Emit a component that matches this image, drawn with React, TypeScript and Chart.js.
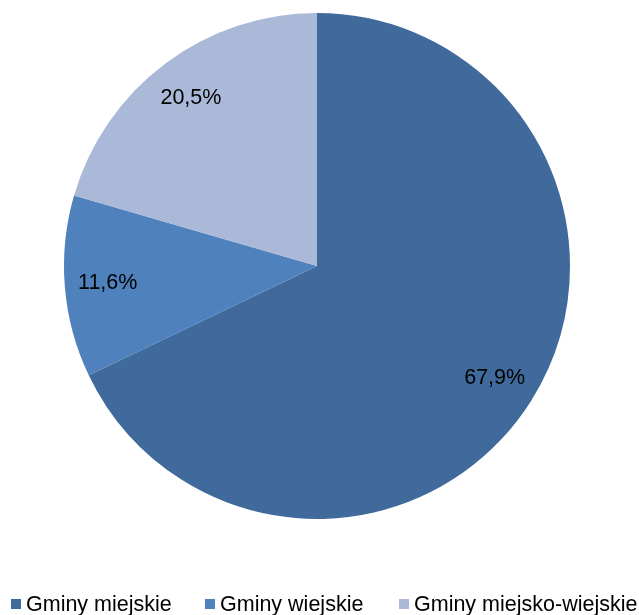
import React, { useEffect, useRef } from "react";
import { Chart, registerables } from "chart.js";

Chart.register(...registerables);

const categories = ["Gminy miejskie", "Gminy wiejskie", "Gminy miejsko-wiejskie"];
const shares = [67.9, 11.6, 20.5];
const shareLabels = ["67,9%", "11,6%", "20,5%"];
const colors = ["#416a9c", "#4f81bd", "#a9b9d7"];

const FONT = "21.5px 'Liberation Sans', Arial, sans-serif";

const labelPlugin = {
  id: "sliceLabels",
  afterDatasetsDraw(chart: any) {
    const ctx = chart.ctx;
    const meta = chart.getDatasetMeta(0);
    ctx.save();
    ctx.font = FONT;
    ctx.fillStyle = "#000";
    ctx.textAlign = "center";
    ctx.textBaseline = "middle";
    meta.data.forEach((arc: any, i: number) => {
      const p = arc.getProps(["x", "y", "startAngle", "endAngle", "outerRadius"], true);
      const mid = (p.startAngle + p.endAngle) / 2;
      const r = p.outerRadius * 0.83;
      ctx.fillText(shareLabels[i], p.x + Math.cos(mid) * r, p.y + Math.sin(mid) * r);
    });
    ctx.restore();
  },
};

const legendPlugin = {
  id: "customLegend",
  afterDraw(chart: any) {
    const ctx = chart.ctx;
    const boxX = [11, 205, 399];
    ctx.save();
    ctx.font = FONT;
    ctx.textBaseline = "middle";
    ctx.textAlign = "left";
    categories.forEach((c, i) => {
      ctx.fillStyle = colors[i];
      ctx.fillRect(boxX[i], 599, 10, 10);
      ctx.fillStyle = "#000";
      ctx.fillText(c, boxX[i] + 15, 605);
    });
    ctx.restore();
  },
};

export default function App() {
  const ref = useRef<HTMLCanvasElement>(null);
  useEffect(() => {
    document.body.style.margin = "0";
    const chart = new Chart(ref.current!, {
      type: "pie",
      data: {
        labels: categories,
        datasets: [
          {
            data: shares,
            backgroundColor: colors,
            borderWidth: 0,
          },
        ],
      },
      options: {
        animation: false,
        responsive: false,
        layout: { padding: { top: 13, bottom: 96, left: 64, right: 69 } },
        plugins: {
          legend: { display: false },
          tooltip: { enabled: false },
        },
      },
      plugins: [labelPlugin, legendPlugin],
    });
    return () => chart.destroy();
  }, []);
  return (
    <div style={{ width: 639, height: 615 }}>
      <canvas ref={ref} width={639} height={615} style={{ display: "block" }} />
    </div>
  );
}
